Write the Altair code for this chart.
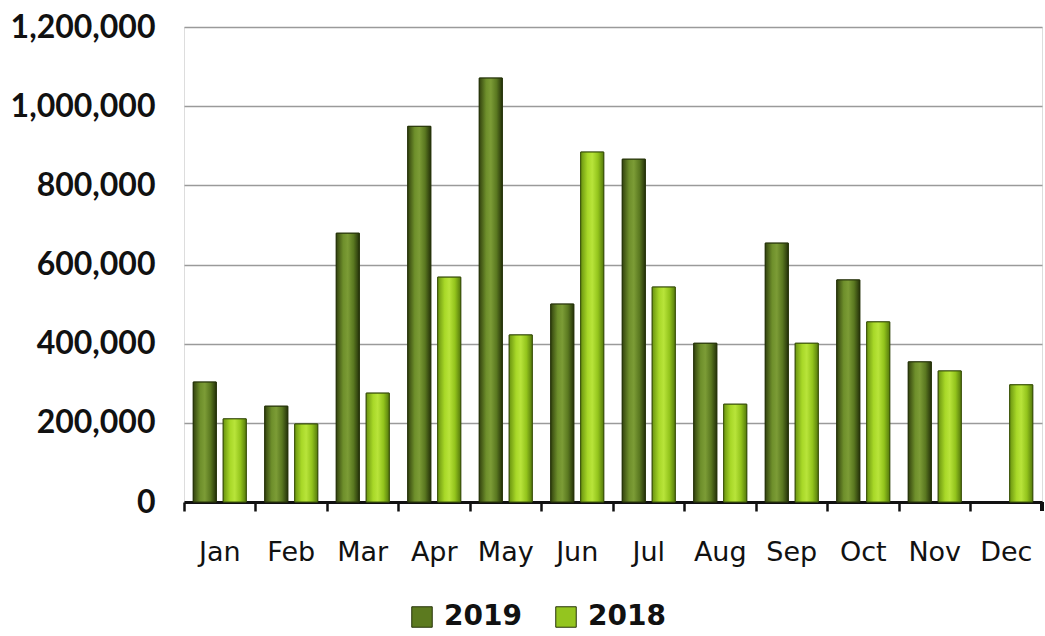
import altair as alt
import pandas as pd

months = ["Jan", "Feb", "Mar", "Apr", "May", "Jun", "Jul", "Aug", "Sep", "Oct", "Nov", "Dec"]
years = ["2019", "2018"]
vals_2019 = [303000, 242000, 679000, 949000, 1071000, 500000, 866000, 401000, 654000, 561000, 354000, None]
vals_2018 = [210000, 197000, 275000, 568000, 422000, 884000, 543000, 247000, 401000, 455000, 331000, 296000]
y_ticks = [0, 200000, 400000, 600000, 800000, 1000000, 1200000]

rows = []
for i, m in enumerate(months):
    rows.append({"month": m, "year": "2019", "value": vals_2019[i]})
    rows.append({"month": m, "year": "2018", "value": vals_2018[i]})
df = pd.DataFrame(rows)

W, H = 858, 475
PI = 0.26

x_enc = alt.X(
    "month:N", sort=months, title=None,
    scale=alt.Scale(paddingInner=PI, paddingOuter=PI / 2),
    axis=alt.Axis(
        bandPosition=-(PI / 2) / (1 - PI), labelAngle=0,
        labelFont="DejaVu Sans", labelFontSize=27, labelColor="#111111",
        labelPadding=28, tickSize=9, tickWidth=2.5, tickColor="#111111",
        domainColor="#111111", domainWidth=3, grid=False,
    ),
)
xoff = alt.XOffset("year:N", sort=years, scale=alt.Scale(domain=years, paddingInner=0.233))
y_enc = alt.Y(
    "value:Q", title=None,
    scale=alt.Scale(domain=[0, 1200000], nice=False),
    axis=alt.Axis(
        values=y_ticks, format=",d", labelFont="Lato", labelFontSize=32,
        labelFontWeight="bold", labelColor="#111111", labelPadding=29,
        ticks=False, domain=False, grid=True, gridColor="#9a9a9a", gridWidth=1.5,
    ),
)

base = alt.Chart(df).mark_bar(stroke="#26330a", strokeWidth=1).encode(
    x=x_enc, xOffset=xoff, y=y_enc,
    color=alt.Color(
        "year:N", sort=years,
        scale=alt.Scale(domain=years, range=["#5c7a1f", "#94c51f"]),
        legend=alt.Legend(
            title=None, orient="none", direction="horizontal",
            legendX=224, legendY=576,
            labelFont="DejaVu Sans", labelFontSize=28, labelFontWeight="bold",
            labelColor="#111111", symbolType="square", symbolSize=420,
            symbolStrokeColor="#26330a", symbolStrokeWidth=1,
            columnPadding=30, labelOffset=8,
        ),
    ),
)

grad_2019 = alt.Gradient(
    gradient="linear", x1=0, x2=1, y1=0, y2=0,
    stops=[
        alt.GradientStop(offset=0, color="#33430e"),
        alt.GradientStop(offset=0.3, color="#6e8f2b"),
        alt.GradientStop(offset=0.5, color="#7c9c36"),
        alt.GradientStop(offset=0.75, color="#5a7820"),
        alt.GradientStop(offset=1, color="#26330a"),
    ],
)
grad_2018 = alt.Gradient(
    gradient="linear", x1=0, x2=1, y1=0, y2=0,
    stops=[
        alt.GradientStop(offset=0, color="#6a9410"),
        alt.GradientStop(offset=0.3, color="#a8d828"),
        alt.GradientStop(offset=0.5, color="#b8e43a"),
        alt.GradientStop(offset=0.75, color="#93c41c"),
        alt.GradientStop(offset=1, color="#557a0c"),
    ],
)

over_2019 = alt.Chart(df).transform_filter(alt.datum.year == "2019").mark_bar(
    color=grad_2019, stroke="#26330a", strokeWidth=1
).encode(x=x_enc, xOffset=xoff, y=y_enc)
over_2018 = alt.Chart(df).transform_filter(alt.datum.year == "2018").mark_bar(
    color=grad_2018, stroke="#3d560a", strokeWidth=1
).encode(x=x_enc, xOffset=xoff, y=y_enc)

end_tick = alt.Chart(df).mark_rule(color="#111111", strokeWidth=2.5).encode(
    x=alt.value(W), y=alt.value(H), y2=alt.value(H + 9)
)

chart = alt.layer(base, over_2019, over_2018, end_tick).properties(
    width=W, height=H, padding={"left": 10, "top": 11, "right": 0, "bottom": 0}
).configure_view(stroke=None).configure(background="white")

chart.save("out.html", embed_options={"renderer": "svg", "actions": False})
